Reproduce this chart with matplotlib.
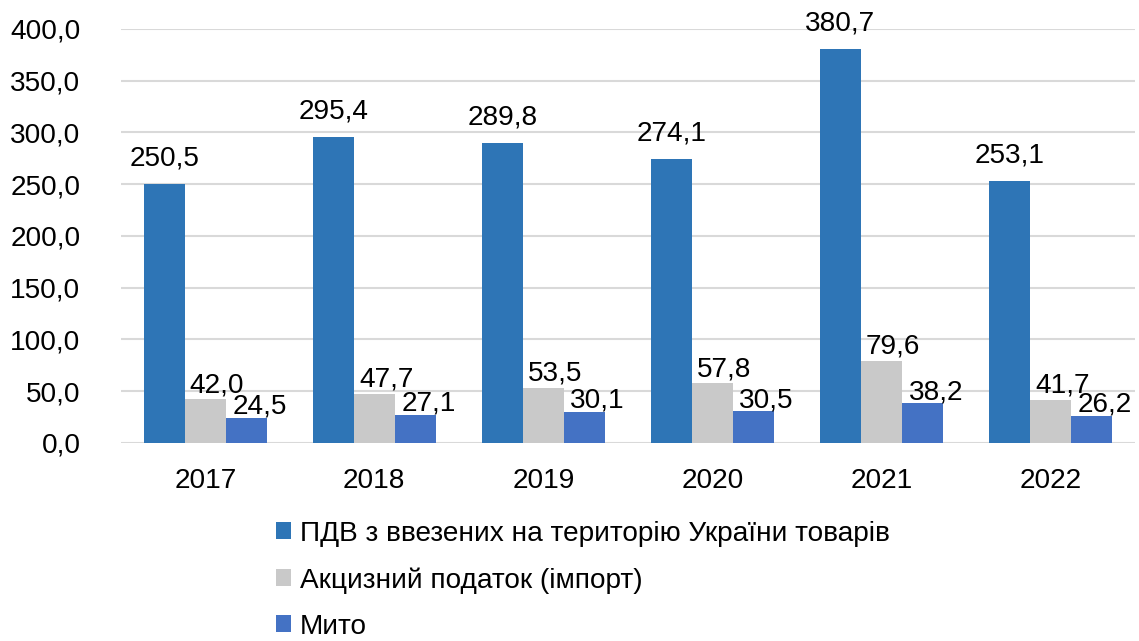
import numpy as np
import matplotlib.pyplot as plt

plt.rcParams['font.family'] = ['Liberation Sans', 'DejaVu Sans']

# Chart data
years = ["2017", "2018", "2019", "2020", "2021", "2022"]
vat = [250.5, 295.4, 289.8, 274.1, 380.7, 253.1]
excise = [42.0, 47.7, 53.5, 57.8, 79.6, 41.7]
duty = [24.5, 27.1, 30.1, 30.5, 38.2, 26.2]
series_names = ["ПДВ з ввезених на територію України товарів",
                "Акцизний податок (імпорт)",
                "Мито"]
colors = ["#2E75B6", "#C9C9C9", "#4472C4"]

fig = plt.figure(figsize=(11.39, 6.41), dpi=100)
ax = fig.add_axes([0.106, 0.309, 0.8905, 0.646])

x = np.arange(len(years))
w = 0.243
fs = 20.2

# label offsets (points): small-series labels are nudged right/down like the original
offsets = [(0, 9), (8.5, 0.7), (9.5, -1.5)]

for i, (vals, name, c) in enumerate(zip([vat, excise, duty], series_names, colors)):
    xs = x + (i - 1) * w
    ax.bar(xs, vals, width=w, color=c, label=name, zorder=3)
    for xi, v in zip(xs, vals):
        ax.annotate(f"{v:.1f}".replace(".", ","), (xi, v), xytext=offsets[i],
                    textcoords="offset points", ha="center", va="bottom",
                    fontsize=fs, color="black", zorder=4)

ax.set_xlim(-0.5, len(years) - 0.5)
ax.set_ylim(0, 400)
ax.set_yticks(np.arange(0, 401, 50))
ax.set_yticklabels([f"{v:.1f}".replace(".", ",") for v in np.arange(0, 401, 50)])
ax.set_xticks(x)
ax.set_xticklabels(years)
ax.tick_params(axis="both", length=0, labelsize=fs, colors="black")
ax.tick_params(axis="y", pad=29)
ax.tick_params(axis="x", pad=18)
ax.grid(axis="y", color="#D9D9D9", linewidth=1.5, zorder=0)
for s in ax.spines.values():
    s.set_visible(False)

fig.legend(loc="upper left", bbox_to_anchor=(0.2423, 0.1875), frameon=False,
           fontsize=fs, handlelength=0.55, handleheight=0.55, handletextpad=0.3,
           labelspacing=0.72, borderaxespad=0, borderpad=0)

fig.savefig("out.png", dpi=100)
